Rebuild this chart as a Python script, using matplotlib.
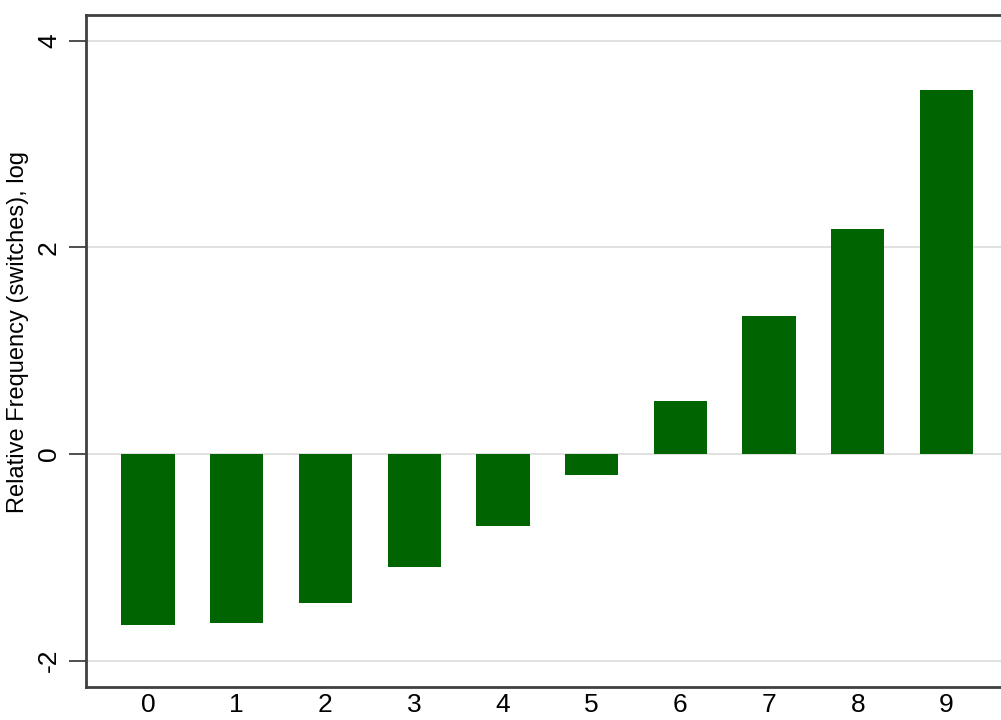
import matplotlib
matplotlib.use("Agg")
import matplotlib.pyplot as plt

# Number of switches and relative frequency (log scale)
categories = [0, 1, 2, 3, 4, 5, 6, 7, 8, 9]
rel_freq_log = [-1.655, -1.64, -1.44, -1.09, -0.70, -0.20, 0.515, 1.335, 2.18, 3.52]
y_ticks = [-2, 0, 2, 4]
y_label = "Relative Frequency (switches), log"

plt.rcParams["font.family"] = ["Liberation Sans", "DejaVu Sans"]

fig = plt.figure(figsize=(10.01, 7.2), dpi=100)
fig.patch.set_facecolor("white")
ax = fig.add_axes([0.0859, 1 - 687 / 720, 1.0075 - 0.0859, (687 - 15) / 720])

ax.bar(categories, rel_freq_log, width=0.6, color="#006400", edgecolor="none", zorder=3)

ax.set_xlim(-0.7, 9.7)
ax.set_ylim(-2.255, 4.25)
ax.set_yticks(y_ticks)
ax.set_yticklabels([str(t) for t in y_ticks], rotation=90, va="center", fontsize=19)
ax.set_xticks(categories)
ax.set_xticklabels([str(c) for c in categories], fontsize=19)
ax.tick_params(axis="x", length=0, pad=4)
ax.tick_params(axis="y", length=12, width=1.3, color="#404040", pad=6)

ax.grid(axis="y", color="#dcdcdc", linewidth=1.2, zorder=0)
ax.set_axisbelow(True)

for side in ["left", "top", "bottom"]:
    ax.spines[side].set_color("#404040")
    ax.spines[side].set_linewidth(2.0)
ax.spines["right"].set_visible(False)

ax.set_ylabel(y_label, fontsize=17)
ax.yaxis.set_label_coords(18 / 1001, 1 - 332 / 720, transform=fig.transFigure)
ax.yaxis.label.set_va("center")

fig.savefig("out.png", dpi=100, facecolor="white")
